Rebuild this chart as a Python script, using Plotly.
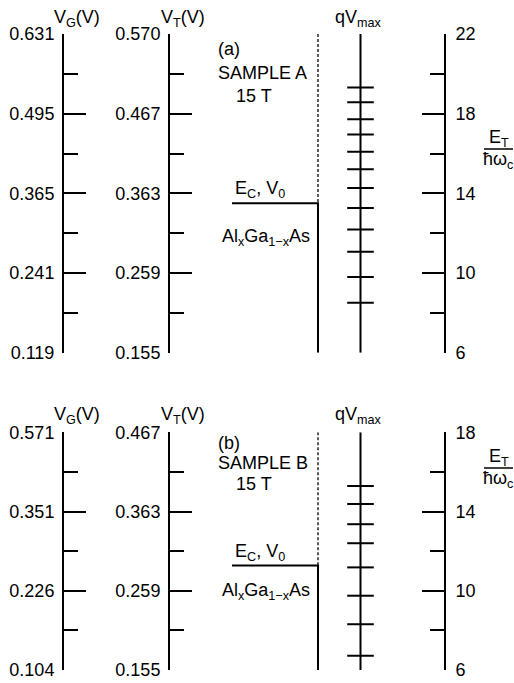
import plotly.graph_objects as go

W, H = 514, 683
FONT = "Liberation Sans, Arial, sans-serif"

# ---------------- (a) SAMPLE A, 15 T ----------------
et_major_a = [6, 10, 14, 18, 22]
et_minor_a = [8, 12, 16, 20]
vg_text_a = ["0.119", "0.241", "0.365", "0.495", "0.631"]
vt_text_a = ["0.155", "0.259", "0.363", "0.467", "0.570"]
et_text_a = ["6", "10", "14", "18", "22"]
qvmax_a = [19.32, 18.57, 17.72, 16.96, 16.09, 15.21, 14.27, 13.26, 12.19, 11.07, 9.80, 8.51]
ec_a = 13.5

# ---------------- (b) SAMPLE B, 15 T ----------------
et_major_b = [6, 10, 14, 18]
et_minor_b = [8, 12, 16]
vg_text_b = ["0.104", "0.226", "0.351", "0.571"]
vt_text_b = ["0.155", "0.259", "0.363", "0.467"]
et_text_b = ["6", "10", "14", "18"]
qvmax_b = [15.29, 14.38, 13.36, 12.40, 11.18, 9.75, 8.31, 6.72]
ec_b = 11.27

# horizontal layout (x axis runs in pixels 0..W)
X_VG, X_VT, X_EC0, X_WALL, X_QV, X_ET = 63, 169, 232, 318, 360.5, 445

fig = go.Figure()
BLACK = "black"


def add_panel(yref, top, qv, ec):
    # barrier edge above E_C (dashed)
    fig.add_trace(go.Scatter(x=[X_WALL, X_WALL], y=[top, ec], mode="lines",
                             line=dict(color=BLACK, width=1.3, dash="3px,2px"),
                             xaxis="x", yaxis=yref, hoverinfo="skip"))
    # E_C level and the solid barrier edge below it
    fig.add_trace(go.Scatter(x=[X_EC0, X_WALL, X_WALL], y=[ec, ec, 6], mode="lines",
                             line=dict(color=BLACK, width=2),
                             xaxis="x", yaxis=yref, hoverinfo="skip"))
    # qV_max scale line
    fig.add_trace(go.Scatter(x=[X_QV, X_QV], y=[6, top], mode="lines",
                             line=dict(color=BLACK, width=2),
                             xaxis="x", yaxis=yref, hoverinfo="skip"))
    # qV_max crossing marks
    fig.add_trace(go.Scatter(x=[X_QV] * len(qv), y=qv, mode="markers",
                             marker=dict(symbol="line-ew", size=19, color=BLACK,
                                         line=dict(color=BLACK, width=2)),
                             xaxis="x", yaxis=yref, hoverinfo="skip"))


def register(yref, top):
    # empty trace so the overlaid V_G / V_T scales are drawn
    fig.add_trace(go.Scatter(x=[None, None], y=[6, top], mode="none",
                             xaxis="x", yaxis=yref, hoverinfo="skip"))


add_panel("y", 22, qvmax_a, ec_a)
add_panel("y2", 18, qvmax_b, ec_b)
register("y3", 22)
register("y4", 22)
register("y5", 18)
register("y6", 18)


def scale_axis(pos, side, vals, text, minor_vals, rng, domain=None, overlay=None):
    ax = dict(
        range=rng, anchor="free", position=pos / W, side=side,
        showline=True, linecolor=BLACK, linewidth=2,
        ticks="inside", ticklen=22, tickwidth=2, tickcolor=BLACK,
        tickmode="array", tickvals=vals, ticktext=text,
        minor=dict(tickmode="array", tickvals=minor_vals, ticks="inside",
                   ticklen=14, tickwidth=2, tickcolor=BLACK, showgrid=False),
        showgrid=False, zeroline=False, automargin=False, fixedrange=True,
        ticklabelstandoff=6 if side == "right" else 4,
        tickfont=dict(family=FONT, size=18, color=BLACK),
    )
    if domain is not None:
        ax["domain"] = domain
    if overlay is not None:
        ax["overlaying"] = overlay
    return ax


def fy(py):
    return 1 - py / H


dom_a = [fy(352.7), fy(34)]
dom_b = [fy(670), fy(432.3)]

fig.update_layout(
    width=W, height=H,
    margin=dict(l=0, r=0, t=0, b=0),
    paper_bgcolor="white", plot_bgcolor="white",
    showlegend=False,
    xaxis=dict(range=[0, W], domain=[0, 1], visible=False, fixedrange=True),
    yaxis=scale_axis(X_ET, "right", et_major_a, et_text_a, et_minor_a, [6, 22], domain=dom_a),
    yaxis2=scale_axis(X_ET, "right", et_major_b, et_text_b, et_minor_b, [6, 18], domain=dom_b),
    yaxis3=scale_axis(X_VG, "left", et_major_a, vg_text_a, et_minor_a, [6, 22], overlay="y"),
    yaxis4=scale_axis(X_VT, "left", et_major_a, vt_text_a, et_minor_a, [6, 22], overlay="y"),
    yaxis5=scale_axis(X_VG, "left", et_major_b, vg_text_b, et_minor_b, [6, 18], overlay="y2"),
    yaxis6=scale_axis(X_VT, "left", et_major_b, vt_text_b, et_minor_b, [6, 18], overlay="y2"),
)


def label(text, x, y, xanchor="center", size=18):
    fig.add_annotation(text=text, x=x / W, y=fy(y), xref="paper", yref="paper",
                       xanchor=xanchor, yanchor="middle", showarrow=False,
                       font=dict(family=FONT, size=size, color=BLACK))


for top in (0, 396):
    label("V<sub>G</sub>(V)", 77, top + 19)
    label("V<sub>T</sub>(V)", 183, top + 19)
    label("qV<sub>max</sub>", 358, top + 19)

label("(a)", 216, 49, "left")
label("SAMPLE A", 216, 73, "left")
label("15 T", 254, 96)
label("E<sub>C</sub>, V<sub>0</sub>", 233, 189, "left")
label("Al<sub>x</sub>Ga<sub>1\u2212x</sub>As", 220, 238, "left")

label("(b)", 216, 443, "left")
label("SAMPLE B", 216, 463, "left")
label("15 T", 254, 484)
label("E<sub>C</sub>, V<sub>0</sub>", 233, 552, "left")
label("Al<sub>x</sub>Ga<sub>1\u2212x</sub>As", 220, 591, "left")

# E_T / hbar omega_c fraction beside the right-hand scale
for ynum, ybar, yden in [(138, 149, 160), (457, 468, 479)]:
    label("E<sub>T</sub>", 499, ynum)
    label("\u0127\u03c9<sub>c</sub>", 498, yden)
    fig.add_shape(type="line", xref="paper", yref="paper",
                  x0=484 / W, x1=513 / W, y0=fy(ybar), y1=fy(ybar),
                  line=dict(color=BLACK, width=1.5))

fig.write_html("out.html")
